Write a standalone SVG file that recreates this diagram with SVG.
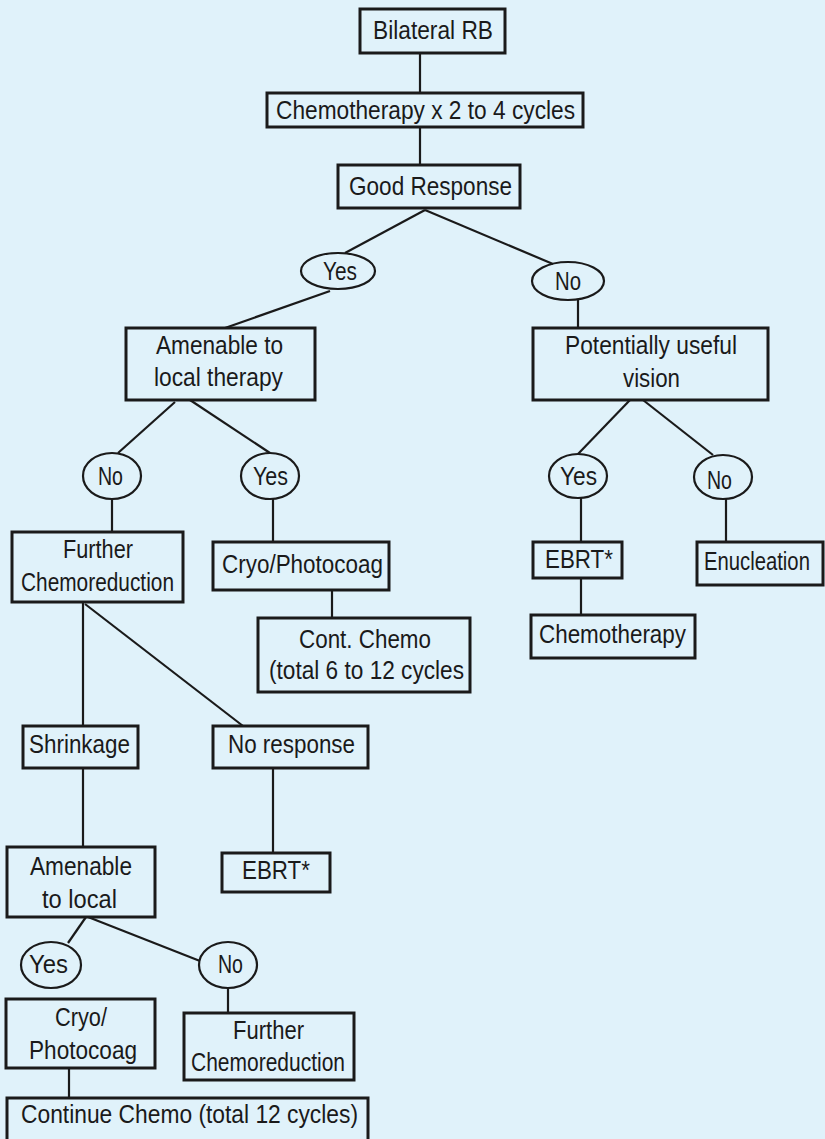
<svg xmlns="http://www.w3.org/2000/svg" width="825" height="1139" viewBox="0 0 825 1139">
  <style>
    .box { fill: none; stroke: #1a1a1a; stroke-width: 3; }
    .oval { fill: none; stroke: #1a1a1a; stroke-width: 2.2; }
    .link { stroke: #1a1a1a; stroke-width: 2.2; fill: none; }
    text { font-family: "Liberation Sans", Arial, sans-serif; font-size: 26px; fill: #1a1a1a; }
  </style>
  <rect width="825" height="1139" fill="#e0f2fa"/>

  <!-- connectors -->
  <g id="connectors" class="link">
    <line x1="420" y1="53" x2="420" y2="93"/>
    <line x1="420" y1="127" x2="420" y2="165"/>
    <line x1="425" y1="210" x2="345" y2="253"/>
    <line x1="425" y1="210" x2="553" y2="264"/>
    <line x1="330" y1="291" x2="225" y2="328"/>
    <line x1="578" y1="300" x2="578" y2="328"/>
    <line x1="175" y1="402" x2="118" y2="453"/>
    <line x1="190" y1="400" x2="270" y2="453"/>
    <line x1="112" y1="499" x2="112" y2="532"/>
    <line x1="273" y1="499" x2="273" y2="542"/>
    <line x1="332" y1="590" x2="332" y2="618"/>
    <line x1="630" y1="400" x2="578" y2="454"/>
    <line x1="643" y1="400" x2="713" y2="455"/>
    <line x1="581" y1="498" x2="581" y2="542"/>
    <line x1="581" y1="578" x2="581" y2="615"/>
    <line x1="726" y1="499" x2="726" y2="542"/>
    <line x1="83" y1="602" x2="83" y2="726"/>
    <line x1="85" y1="604" x2="243" y2="726"/>
    <line x1="83" y1="768" x2="83" y2="847"/>
    <line x1="273" y1="768" x2="273" y2="853"/>
    <line x1="86" y1="917" x2="68" y2="943"/>
    <line x1="88" y1="917" x2="200" y2="961"/>
    <line x1="228" y1="988" x2="228" y2="1013"/>
    <line x1="69" y1="1068" x2="69" y2="1098"/>
  </g>

  <g id="bilateral-rb">
    <rect class="box" x="360" y="9" width="145" height="44"/>
    <text x="373" y="39" textLength="120" lengthAdjust="spacingAndGlyphs">Bilateral RB</text>
  </g>
  <g id="chemo-initial">
    <rect class="box" x="267" y="93" width="316" height="34"/>
    <text x="276" y="119" textLength="299" lengthAdjust="spacingAndGlyphs">Chemotherapy x 2 to 4 cycles</text>
  </g>
  <g id="good-response">
    <rect class="box" x="338" y="165" width="182" height="43"/>
    <text x="349" y="195" textLength="163" lengthAdjust="spacingAndGlyphs">Good Response</text>
  </g>
  <g id="yes-1">
    <ellipse class="oval" cx="338" cy="271" rx="37" ry="18"/>
    <text x="323" y="280" textLength="34" lengthAdjust="spacingAndGlyphs">Yes</text>
  </g>
  <g id="no-1">
    <ellipse class="oval" cx="568" cy="281" rx="36" ry="19"/>
    <text x="555" y="290" textLength="26" lengthAdjust="spacingAndGlyphs">No</text>
  </g>
  <g id="amenable-local">
    <rect class="box" x="126" y="328" width="189" height="72"/>
    <text x="156" y="354" textLength="127" lengthAdjust="spacingAndGlyphs">Amenable to</text>
    <text x="154" y="386" textLength="129" lengthAdjust="spacingAndGlyphs">local therapy</text>
  </g>
  <g id="useful-vision">
    <rect class="box" x="533" y="328" width="235" height="72"/>
    <text x="565" y="354" textLength="172" lengthAdjust="spacingAndGlyphs">Potentially useful</text>
    <text x="623" y="387" textLength="57" lengthAdjust="spacingAndGlyphs">vision</text>
  </g>
  <g id="no-2">
    <ellipse class="oval" cx="112" cy="476" rx="29" ry="23"/>
    <text x="98" y="485" textLength="25" lengthAdjust="spacingAndGlyphs">No</text>
  </g>
  <g id="yes-2">
    <ellipse class="oval" cx="270" cy="476" rx="29" ry="23"/>
    <text x="253" y="485" textLength="35" lengthAdjust="spacingAndGlyphs">Yes</text>
  </g>
  <g id="yes-3">
    <ellipse class="oval" cx="578" cy="476" rx="29" ry="22"/>
    <text x="560" y="485" textLength="37" lengthAdjust="spacingAndGlyphs">Yes</text>
  </g>
  <g id="no-3">
    <ellipse class="oval" cx="723" cy="477" rx="29" ry="22"/>
    <text x="707" y="489" textLength="25" lengthAdjust="spacingAndGlyphs">No</text>
  </g>
  <g id="further-chemoreduction-1">
    <rect class="box" x="12" y="532" width="171" height="70"/>
    <text x="63" y="558" textLength="70" lengthAdjust="spacingAndGlyphs">Further</text>
    <text x="21" y="591" textLength="153" lengthAdjust="spacingAndGlyphs">Chemoreduction</text>
  </g>
  <g id="cryo-photocoag-1">
    <rect class="box" x="213" y="542" width="176" height="48"/>
    <text x="222" y="573" textLength="161" lengthAdjust="spacingAndGlyphs">Cryo/Photocoag</text>
  </g>
  <g id="cont-chemo">
    <rect class="box" x="258" y="618" width="212" height="74"/>
    <text x="299" y="648" textLength="132" lengthAdjust="spacingAndGlyphs">Cont. Chemo</text>
    <text x="269" y="679" textLength="195" lengthAdjust="spacingAndGlyphs">(total 6 to 12 cycles</text>
  </g>
  <g id="ebrt-1">
    <rect class="box" x="533" y="542" width="89" height="36"/>
    <text x="545" y="568" textLength="68" lengthAdjust="spacingAndGlyphs">EBRT*</text>
  </g>
  <g id="enucleation">
    <rect class="box" x="697" y="542" width="126" height="43"/>
    <!-- narrowed horizontally so the label stays inside the box -->
    <text transform="translate(704,570) scale(0.78,1)">Enucleation</text>
  </g>
  <g id="chemotherapy">
    <rect class="box" x="531" y="615" width="164" height="43"/>
    <text x="539" y="643" textLength="147" lengthAdjust="spacingAndGlyphs">Chemotherapy</text>
  </g>
  <g id="shrinkage">
    <rect class="box" x="23" y="726" width="115" height="42"/>
    <text x="29" y="753" textLength="101" lengthAdjust="spacingAndGlyphs">Shrinkage</text>
  </g>
  <g id="no-response">
    <rect class="box" x="213" y="726" width="155" height="42"/>
    <text x="228" y="753" textLength="127" lengthAdjust="spacingAndGlyphs">No response</text>
  </g>
  <g id="amenable-local-2">
    <rect class="box" x="7" y="847" width="148" height="70"/>
    <text x="30" y="875" textLength="102" lengthAdjust="spacingAndGlyphs">Amenable</text>
    <text x="42" y="908" textLength="75" lengthAdjust="spacingAndGlyphs">to local</text>
  </g>
  <g id="ebrt-2">
    <rect class="box" x="222" y="853" width="108" height="39"/>
    <text x="242" y="879" textLength="68" lengthAdjust="spacingAndGlyphs">EBRT*</text>
  </g>
  <g id="yes-4">
    <ellipse class="oval" cx="51" cy="965" rx="30" ry="23"/>
    <text x="29" y="973" textLength="39" lengthAdjust="spacingAndGlyphs">Yes</text>
  </g>
  <g id="no-4">
    <ellipse class="oval" cx="228" cy="965" rx="29" ry="23"/>
    <text x="218" y="973" textLength="25" lengthAdjust="spacingAndGlyphs">No</text>
  </g>
  <g id="cryo-photocoag-2">
    <rect class="box" x="6" y="999" width="149" height="69"/>
    <text x="55" y="1026" textLength="52" lengthAdjust="spacingAndGlyphs">Cryo/</text>
    <text x="29" y="1059" textLength="108" lengthAdjust="spacingAndGlyphs">Photocoag</text>
  </g>
  <g id="further-chemoreduction-2">
    <rect class="box" x="184" y="1013" width="170" height="67"/>
    <text x="233" y="1039" textLength="71" lengthAdjust="spacingAndGlyphs">Further</text>
    <text x="191" y="1071" textLength="154" lengthAdjust="spacingAndGlyphs">Chemoreduction</text>
  </g>
  <g id="continue-chemo">
    <rect class="box" x="7" y="1098" width="361" height="60"/>
    <text x="21" y="1123" textLength="337" lengthAdjust="spacingAndGlyphs">Continue Chemo (total 12 cycles)</text>
  </g>
</svg>
